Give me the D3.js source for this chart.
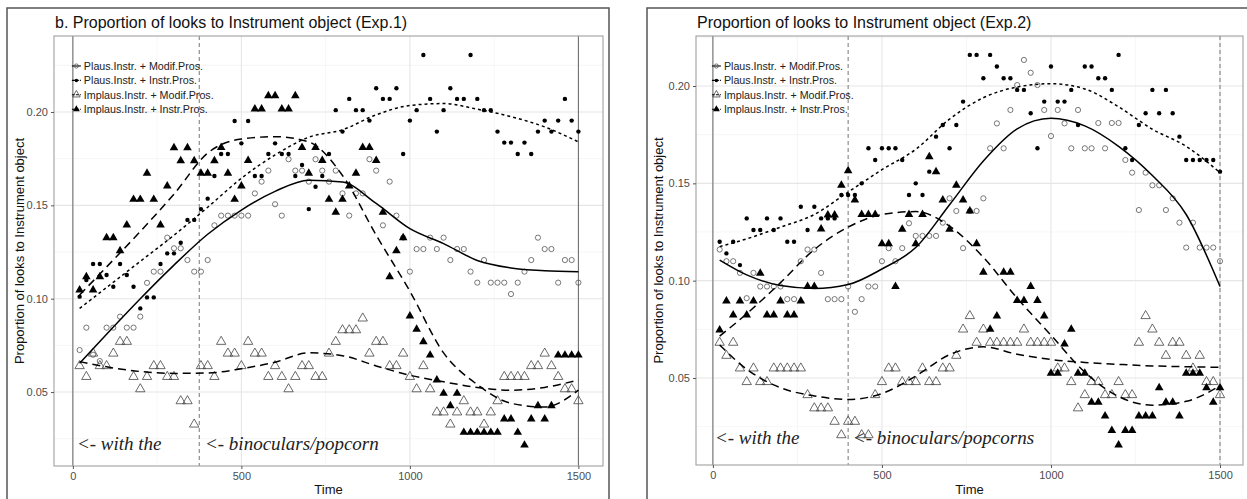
<!DOCTYPE html>
<html>
<head>
<meta charset="utf-8">
<script src="https://cdn.jsdelivr.net/npm/d3@7"></script>
<style>
  body { margin: 0; background: #fff; }
  svg text { font-family: "Liberation Sans", Arial, sans-serif; }
</style>
</head>
<body>
<svg id="chart" width="1247" height="499"></svg>
<script>
// time bins (ms)
const times = [20, 40, 60, 80, 100, 120, 140, 160, 180, 200, 220, 240, 260, 280, 300, 320, 340, 360, 380, 400,
  420, 440, 460, 480, 500, 520, 540, 560, 580, 600, 620, 640, 660, 680, 700, 720, 740, 760, 780, 800,
  820, 840, 860, 880, 900, 920, 940, 960, 980, 1000, 1020, 1040, 1060, 1080, 1100, 1120, 1140, 1160, 1180, 1200,
  1220, 1240, 1260, 1280, 1300, 1320, 1340, 1360, 1380, 1400, 1420, 1440, 1460, 1480, 1500];

const legendLabels = ['Plaus.Instr. + Modif.Pros.', 'Plaus.Instr. + Instr.Pros.', 'Implaus.Instr. + Modif.Pros.', 'Implaus.Instr. + Instr.Pros.'];
const xTicks = [0, 500, 1000, 1500];
const xMinorTicks = [250, 750, 1250];
const yTicks = [0.05, 0.10, 0.15, 0.20];
const yMinorTicks = [0.025, 0.075, 0.125, 0.175, 0.225];

// Exp.1 observed proportions
const exp1PlausModif = [0.0725, 0.0845, 0.070, 0.0666, 0.0845, 0.0845, 0.0904, 0.0845, 0.0845, 0.0904,
  0.1085, 0.1145, 0.1145, 0.1327, 0.127, 0.127, 0.1207, 0.1145, 0.1145, 0.1207,
  0.1393, 0.1445, 0.1445, 0.1445, 0.1445, 0.1445, 0.1564, 0.1627, 0.1686, 0.1506,
  0.1445, 0.1747, 0.1686, 0.1686, 0.1627, 0.1747, 0.1686, 0.1627, 0.1686, 0.1564,
  0.1445, 0.1564, 0.1564, 0.1747, 0.1686, 0.1393, 0.1627, 0.1445, 0.1327, 0.1145,
  0.1266, 0.1266, 0.1327, 0.1266, 0.1327, 0.1207, 0.1266, 0.1266, 0.1145, 0.1086,
  0.1207, 0.1086, 0.1086, 0.1086, 0.1025, 0.1086, 0.1145, 0.1207, 0.1327, 0.1266,
  0.1266, 0.1086, 0.1207, 0.1207, 0.1086];
const exp1PlausInstr = [0.1011, 0.110, 0.1186, 0.1186, 0.1127, 0.1064, 0.1186, 0.1127, 0.1064, 0.0948,
  0.1007, 0.1007, 0.1186, 0.1243, 0.1243, 0.130, 0.1422, 0.1422, 0.148, 0.1536,
  0.1657, 0.1775, 0.1775, 0.1952, 0.1832, 0.1952, 0.1657, 0.1657, 0.1775, 0.1832,
  0.1775, 0.1775, 0.1657, 0.1716, 0.148, 0.160, 0.1657, 0.1775, 0.201, 0.1895,
  0.207, 0.201, 0.201, 0.1954, 0.2127, 0.207, 0.207, 0.2127, 0.1775, 0.1954,
  0.201, 0.2305, 0.207, 0.1895, 0.201, 0.2127, 0.207, 0.207, 0.2305, 0.207,
  0.201, 0.201, 0.1895, 0.1836, 0.1836, 0.1775, 0.1836, 0.1775, 0.1895, 0.1954,
  0.1895, 0.1954, 0.207, 0.1954, 0.1895];
const exp1ImplausModif = [0.064, 0.0582, 0.0707, 0.064, 0.064, 0.0707, 0.077, 0.077, 0.0582, 0.0516,
  0.0582, 0.064, 0.064, 0.0582, 0.0582, 0.0452, 0.0452, 0.0327, 0.064, 0.064,
  0.0582, 0.077, 0.0707, 0.0707, 0.064, 0.077, 0.0707, 0.0707, 0.0582, 0.064,
  0.0582, 0.0516, 0.0582, 0.064, 0.064, 0.0582, 0.0582, 0.0707, 0.077, 0.0832,
  0.0832, 0.0832, 0.0895, 0.0707, 0.077, 0.077, 0.064, 0.064, 0.0707, 0.0582,
  0.0516, 0.064, 0.0516, 0.0392, 0.0392, 0.0327, 0.0392, 0.0452, 0.0392, 0.0392,
  0.0327, 0.0392, 0.0452, 0.0582, 0.0582, 0.0582, 0.0582, 0.064, 0.064, 0.0707,
  0.064, 0.0582, 0.0516, 0.0516, 0.0452];
const exp1ImplausInstr = [0.1047, 0.1118, 0.1047, 0.1118, 0.1327, 0.1327, 0.1257, 0.1395, 0.1532, 0.1532,
  0.1672, 0.1532, 0.1395, 0.1604, 0.1809, 0.1739, 0.1809, 0.1739, 0.1672, 0.1672,
  0.1739, 0.181, 0.1672, 0.1532, 0.1604, 0.174, 0.2016, 0.2016, 0.2087, 0.2087,
  0.2016, 0.2016, 0.2087, 0.181, 0.1672, 0.181, 0.174, 0.1532, 0.1463, 0.1532,
  0.1604, 0.1672, 0.181, 0.181, 0.174, 0.1463, 0.1118, 0.1257, 0.1327, 0.0907,
  0.0836, 0.077, 0.0698, 0.0565, 0.0493, 0.0427, 0.0493, 0.0284, 0.0284, 0.0284,
  0.0284, 0.0284, 0.0284, 0.0356, 0.0356, 0.0284, 0.0216, 0.0356, 0.0427, 0.0356,
  0.0427, 0.0698, 0.0698, 0.0698, 0.0698];

// Exp.2 observed proportions
const exp2PlausModif = [0.116, 0.110, 0.110, 0.104, 0.091, 0.104, 0.097, 0.097, 0.097, 0.097,
  0.0905, 0.0905, 0.110, 0.116, 0.116, 0.104, 0.0905, 0.0905, 0.0905, 0.097,
  0.084, 0.0905, 0.097, 0.097, 0.110, 0.1167, 0.110, 0.1167, 0.1295, 0.123,
  0.123, 0.123, 0.123, 0.1298, 0.1423, 0.1358, 0.1167, 0.1358, 0.1358, 0.1423,
  0.168, 0.1808, 0.168, 0.1877, 0.2005, 0.2134, 0.2068, 0.2005, 0.1877, 0.1743,
  0.1877, 0.1808, 0.168, 0.1877, 0.168, 0.168, 0.181, 0.168, 0.181, 0.181,
  0.162, 0.1555, 0.1363, 0.1555, 0.149, 0.149, 0.1363, 0.1423, 0.1298, 0.117,
  0.1298, 0.117, 0.117, 0.117, 0.110];
const exp2PlausInstr = [0.120, 0.114, 0.120, 0.108, 0.132, 0.126, 0.126, 0.132, 0.126, 0.132,
  0.120, 0.120, 0.138, 0.126, 0.138, 0.132, 0.132, 0.132, 0.144, 0.144,
  0.144, 0.150, 0.168, 0.162, 0.168, 0.168, 0.168, 0.162, 0.144, 0.150,
  0.144, 0.156, 0.174, 0.180, 0.168, 0.180, 0.192, 0.216, 0.216, 0.204,
  0.216, 0.210, 0.204, 0.204, 0.198, 0.198, 0.186, 0.168, 0.192, 0.210,
  0.192, 0.192, 0.198, 0.180, 0.210, 0.210, 0.204, 0.204, 0.198, 0.216,
  0.168, 0.162, 0.180, 0.186, 0.198, 0.186, 0.198, 0.186, 0.174, 0.162,
  0.162, 0.162, 0.162, 0.162, 0.156];
const exp2ImplausModif = [0.0682, 0.0615, 0.0682, 0.055, 0.048, 0.055, 0.048, 0.048, 0.055, 0.055,
  0.055, 0.055, 0.055, 0.0413, 0.0345, 0.0345, 0.0345, 0.0276, 0.0207, 0.0276,
  0.0276, 0.0207, 0.0207, 0.0413, 0.048, 0.055, 0.055, 0.048, 0.048, 0.048,
  0.055, 0.048, 0.048, 0.055, 0.055, 0.0615, 0.075, 0.0819, 0.0682, 0.075,
  0.0682, 0.0682, 0.0682, 0.0682, 0.0682, 0.075, 0.0682, 0.0682, 0.0682, 0.0682,
  0.055, 0.055, 0.048, 0.0345, 0.0413, 0.048, 0.048, 0.0413, 0.0413, 0.048,
  0.0413, 0.0413, 0.0682, 0.0819, 0.075, 0.0682, 0.0615, 0.0682, 0.0682, 0.0615,
  0.055, 0.0615, 0.048, 0.048, 0.0413];
const exp2ImplausInstr = [0.0747, 0.0896, 0.0824, 0.0896, 0.0824, 0.0896, 0.1038, 0.0824, 0.0824, 0.0896,
  0.0824, 0.0824, 0.0896, 0.097, 0.097, 0.1266, 0.1337, 0.1337, 0.149, 0.1565,
  0.1414, 0.134, 0.134, 0.134, 0.119, 0.119, 0.097, 0.1264, 0.134, 0.119,
  0.134, 0.1637, 0.156, 0.1414, 0.1264, 0.149, 0.1414, 0.1358, 0.119, 0.1043,
  0.075, 0.0819, 0.1043, 0.1043, 0.0898, 0.0898, 0.097, 0.0898, 0.0819, 0.0524,
  0.0524, 0.0675, 0.075, 0.0524, 0.0524, 0.0375, 0.0375, 0.0305, 0.023, 0.0156,
  0.023, 0.023, 0.0305, 0.0305, 0.0305, 0.045, 0.0375, 0.0375, 0.0305, 0.0524,
  0.0524, 0.0524, 0.045, 0.0375, 0.045];

// smoothed fits
const fitTimes = [20, 100, 200, 300, 400, 500, 600, 700, 800, 900, 1000, 1100, 1200, 1300, 1400, 1500];
const exp1FitPlausModif = [0.0654, 0.081, 0.100, 0.118, 0.1345, 0.1475, 0.1575, 0.1635, 0.1625, 0.151, 0.1375, 0.1295, 0.1205, 0.1165, 0.115, 0.1145];
const exp1FitPlausInstr = [0.0948, 0.106, 0.120, 0.134, 0.149, 0.1645, 0.177, 0.1865, 0.1905, 0.1985, 0.2035, 0.2045, 0.2015, 0.1975, 0.192, 0.184];
const exp1FitImplausModif = [0.0663, 0.0635, 0.061, 0.060, 0.0602, 0.0625, 0.066, 0.071, 0.0695, 0.064, 0.059, 0.0555, 0.0525, 0.051, 0.0525, 0.0565];
const exp1FitImplausInstr = [0.102, 0.117, 0.136, 0.156, 0.178, 0.1855, 0.1868, 0.184, 0.166, 0.134, 0.104, 0.071, 0.054, 0.044, 0.042, 0.051];
const exp2FitPlausModif = [0.1106, 0.103, 0.0975, 0.096, 0.098, 0.106, 0.117, 0.139, 0.1615, 0.178, 0.1834, 0.1795, 0.169, 0.154, 0.134, 0.097];
const exp2FitPlausInstr = [0.1175, 0.1215, 0.1275, 0.134, 0.1455, 0.157, 0.1675, 0.183, 0.194, 0.1995, 0.2012, 0.1985, 0.1893, 0.1778, 0.169, 0.1555];
const exp2FitImplausModif = [0.067, 0.0545, 0.045, 0.0408, 0.039, 0.042, 0.051, 0.062, 0.066, 0.0622, 0.0595, 0.058, 0.057, 0.0562, 0.0558, 0.0555];
const exp2FitImplausInstr = [0.0715, 0.083, 0.099, 0.116, 0.1275, 0.134, 0.1355, 0.128, 0.112, 0.091, 0.072, 0.053, 0.0405, 0.036, 0.038, 0.046];

// look of the four conditions, same order as legendLabels
const styles = [
  { shape: 'circle', filled: false, dash: null },
  { shape: 'circle', filled: true, dash: '3,3' },
  { shape: 'triangle', filled: false, dash: '8,5' },
  { shape: 'triangle', filled: true, dash: '8,5' },
];

const panels = [
  {
    frame: { x: 7, y: 8, w: 602, h: 520 },
    box: { left: 54, top: 36, right: 603, bottom: 466 },
    xDomain: [-56, 1573],
    yDomain: [0.0104, 0.2407],
    title: 'b. Proportion of looks to Instrument object (Exp.1)',
    series: [exp1PlausModif, exp1PlausInstr, exp1ImplausModif, exp1ImplausInstr],
    fits: [exp1FitPlausModif, exp1FitPlausInstr, exp1FitImplausModif, exp1FitImplausInstr],
    vlines: [{ t: 0, dash: null }, { t: 1500, dash: null }, { t: 375, dash: '4,3' }],
    notes: [{ t: 12, v: 0.019, text: '<- with the' }, { t: 392, v: 0.019, text: '<- binoculars/popcorn' }],
    yTitleX: 20,
  },
  {
    frame: { x: 647, y: 8, w: 620, h: 520 },
    box: { left: 696, top: 36, right: 1243, bottom: 465 },
    xDomain: [-50, 1568],
    yDomain: [0.0053, 0.2257],
    title: 'Proportion of looks to Instrument object (Exp.2)',
    series: [exp2PlausModif, exp2PlausInstr, exp2ImplausModif, exp2ImplausInstr],
    fits: [exp2FitPlausModif, exp2FitPlausInstr, exp2FitImplausModif, exp2FitImplausInstr],
    vlines: [{ t: 0, dash: null }, { t: 400, dash: '4,3' }, { t: 1500, dash: '4,3' }],
    notes: [{ t: 6, v: 0.0161, text: '<- with the' }, { t: 414, v: 0.0161, text: '<- binoculars/popcorns' }],
    yTitleX: 659,
  },
];

const svg = d3.select('#chart');

function marker(sel, style, scale) {
  const k = scale || 1;
  if (style.shape === 'circle') {
    sel.append('circle')
      .attr('r', (style.filled ? 2.2 : 2.6) * k)
      .attr('fill', style.filled ? '#000' : 'none')
      .attr('stroke', style.filled ? 'none' : '#555')
      .attr('stroke-width', 0.8);
  } else {
    sel.append('path')
      .attr('d', d3.symbol(d3.symbolTriangle, (style.filled ? 32 : 38) * k * k)())
      .attr('fill', style.filled ? '#000' : 'none')
      .attr('stroke', style.filled ? 'none' : '#444')
      .attr('stroke-width', 0.8);
  }
}

function drawPanel(p) {
  const b = p.box;
  const w = b.right - b.left;
  const h = b.bottom - b.top;
  const x = d3.scaleLinear().domain(p.xDomain).range([b.left, b.right]);
  const y = d3.scaleLinear().domain(p.yDomain).range([b.bottom, b.top]);

  svg.append('rect')
    .attr('x', p.frame.x).attr('y', p.frame.y)
    .attr('width', p.frame.w).attr('height', p.frame.h)
    .attr('fill', '#fff').attr('stroke', '#555').attr('stroke-width', 1.5);

  // grid
  const grid = svg.append('g').classed('grid', true);
  grid.selectAll('.xminor').data(xMinorTicks).enter().append('line')
    .attr('x1', (d) => x(d)).attr('x2', (d) => x(d)).attr('y1', b.top).attr('y2', b.bottom)
    .attr('stroke', '#f2f2f2').attr('stroke-width', 0.7);
  grid.selectAll('.yminor').data(yMinorTicks.filter((d) => y(d) > b.top + 1)).enter().append('line')
    .attr('x1', b.left).attr('x2', b.right).attr('y1', (d) => y(d)).attr('y2', (d) => y(d))
    .attr('stroke', '#f2f2f2').attr('stroke-width', 0.7);
  grid.selectAll('.xmajor').data(xTicks).enter().append('line')
    .attr('x1', (d) => x(d)).attr('x2', (d) => x(d)).attr('y1', b.top).attr('y2', b.bottom)
    .attr('stroke', '#e6e6e6').attr('stroke-width', 1.1);
  grid.selectAll('.ymajor').data(yTicks).enter().append('line')
    .attr('x1', b.left).attr('x2', b.right).attr('y1', (d) => y(d)).attr('y2', (d) => y(d))
    .attr('stroke', '#e6e6e6').attr('stroke-width', 1.1);

  // reference lines
  svg.append('g').selectAll('line').data(p.vlines).enter().append('line')
    .attr('x1', (d) => x(d.t)).attr('x2', (d) => x(d.t)).attr('y1', b.top).attr('y2', b.bottom)
    .attr('stroke', (d) => (d.dash ? '#777' : '#666'))
    .attr('stroke-width', 1)
    .attr('stroke-dasharray', (d) => d.dash);

  // points
  p.series.forEach((vals, i) => {
    const style = styles[i];
    svg.append('g').selectAll('g').data(vals).enter().append('g')
      .attr('transform', (d, j) => `translate(${x(times[j])},${y(d)})`)
      .each(function () { marker(d3.select(this), style); });
  });

  // fitted curves
  const line = d3.line().x((d, j) => x(fitTimes[j])).y((d) => y(d)).curve(d3.curveMonotoneX);
  p.fits.forEach((vals, i) => {
    svg.append('path').datum(vals)
      .attr('d', line)
      .attr('fill', 'none').attr('stroke', '#000')
      .attr('stroke-width', 1.5)
      .attr('stroke-dasharray', styles[i].dash);
  });

  // panel border
  svg.append('rect').attr('x', b.left).attr('y', b.top).attr('width', w).attr('height', h)
    .attr('fill', 'none').attr('stroke', '#a0a0a0').attr('stroke-width', 1.1);

  // axes
  const xAxis = d3.axisBottom(x).tickValues(xTicks).tickSize(3).tickPadding(3).tickFormat(d3.format('d'));
  const gx = svg.append('g').attr('transform', `translate(0,${b.bottom})`).call(xAxis);
  const yAxis = d3.axisLeft(y).tickValues(yTicks).tickSize(3).tickPadding(3).tickFormat(d3.format('.2f'));
  const gy = svg.append('g').attr('transform', `translate(${b.left},0)`).call(yAxis);
  [gx, gy].forEach((g) => {
    g.select('.domain').remove();
    g.selectAll('.tick line').attr('stroke', '#555');
    g.selectAll('.tick text').attr('fill', '#4d4d4d').style('font-size', '11px')
      .style('font-family', '"Liberation Sans", Arial, sans-serif');
  });

  svg.append('text').attr('x', (b.left + b.right) / 2).attr('y', 494)
    .attr('text-anchor', 'middle').style('font-size', '13px').attr('fill', '#111').text('Time');
  svg.append('text')
    .attr('transform', `translate(${p.yTitleX + 4},${(b.top + b.bottom) / 2}) rotate(-90)`)
    .attr('text-anchor', 'middle').style('font-size', '13px').attr('fill', '#111')
    .text('Proportion of looks to Instrument object');
  svg.append('text').attr('x', b.left + 1).attr('y', 28)
    .style('font-size', '16px').attr('fill', '#111').text(p.title);

  // legend
  const lx = x(0) - 1;
  const legend = svg.append('g').selectAll('g').data(legendLabels).enter().append('g')
    .attr('transform', (d, i) => `translate(${lx},${b.top + 30 + i * 14.4})`);
  legend.append('line').attr('x1', 0).attr('x2', 9).attr('y1', 0).attr('y2', 0)
    .attr('stroke', '#000').attr('stroke-width', 1.1)
    .attr('stroke-dasharray', (d, i) => (styles[i].dash ? '3,1' : null));
  legend.each(function (d, i) {
    const g = d3.select(this).append('g').attr('transform', 'translate(4.5,0)');
    marker(g, styles[i], 0.8);
  });
  legend.append('text').attr('x', 12).attr('y', 0).attr('dy', '0.35em')
    .style('font-size', '10.7px').attr('fill', '#222').text((d) => d);

  // annotations
  svg.append('g').selectAll('text').data(p.notes).enter().append('text')
    .attr('x', (d) => x(d.t)).attr('y', (d) => y(d.v))
    .style('font-family', '"Liberation Serif", "Times New Roman", serif')
    .style('font-style', 'italic').style('font-size', '19px').attr('fill', '#222')
    .text((d) => d.text);
}

panels.forEach(drawPanel);
</script>
</body>
</html>
